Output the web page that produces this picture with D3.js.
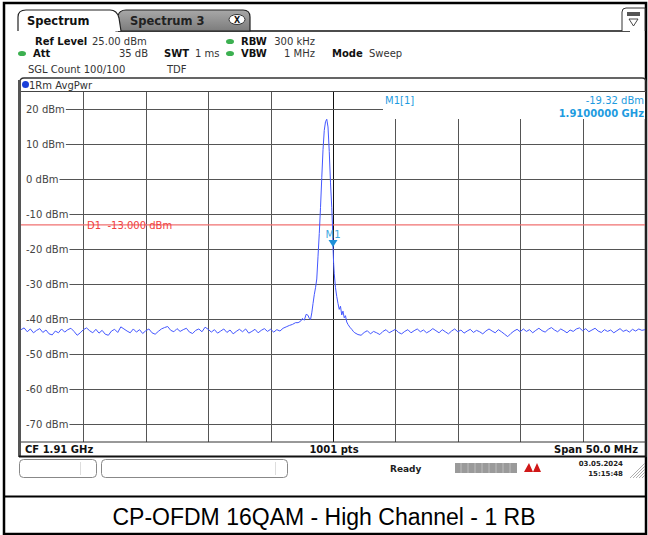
<!DOCTYPE html>
<html><head><meta charset="utf-8">
<script src="https://cdn.jsdelivr.net/npm/d3@7"></script>
<style>html,body{margin:0;padding:0;background:#fff;}svg{display:block;}</style>
</head><body>
<svg id="c" width="648" height="535"></svg>
<script>
// ---------- data ----------
const yTicks = [20, 10, 0, -10, -20, -30, -40, -50, -60, -70];
const xGridMHz = [1890, 1895, 1900, 1905, 1910, 1915, 1920, 1925, 1930];
const startMHz = 1885, stopMHz = 1935, stepMHz = 0.25;
// noise floor left of carrier (offset from start, 0.25 MHz grid)
const leftNoise = [-43.0,-42.5,-43.6,-42.8,-43.9,-43.2,-42.7,-43.8,-43.1,-44.2,-44.5,-43.4,-43.9,-42.8,-43.7,-43.0,-42.6,-43.5,-44.6,-43.9,-43.0,-42.5,-43.3,-43.9,-42.9,-44.0,-43.2,-44.3,-44.6,-43.4,-42.9,-43.8,-42.2,-42.8,-43.4,-43.9,-42.8,-43.7,-43.0,-44.1,-43.3,-42.8,-43.9,-44.3,-43.5,-42.8,-42.4,-42.1,-43.2,-43.6,-42.7,-43.5,-43.0,-42.6,-43.7,-44.1,-43.2,-42.8,-43.6,-42.3,-42.9,-43.7,-43.0,-44.0,-43.4,-42.8,-43.8,-43.1,-44.2,-43.5,-42.9,-43.6,-42.8,-44.0,-43.5,-42.9,-43.9,-43.2,-42.7,-43.5,-42.9,-43.7,-43.0,-43.4,-42.6,-42.2,-41.8,-41.5,-41.0];
// carrier region (offset MHz from start)
const peakOffset = [22.2,22.4,22.55,22.7,22.85,23.0,23.1,23.2,23.3,23.4,23.5,23.6,23.7,23.8,23.9,24.0,24.1,24.2,24.3,24.4,24.5,24.6,24.7,24.8,24.9,24.95,25.0,25.05,25.1,25.2,25.3,25.4,25.5,25.6,25.7,25.8,25.9,26.0,26.1,26.2,26.35,26.5,26.65];
const peakLevel  = [-41.0,-40.6,-39.8,-40.3,-38.6,-38.9,-39.8,-40.1,-38.2,-35.5,-33.0,-31.0,-28.5,-22.0,-15.5,-8.0,0.5,8.5,14.0,16.5,17.2,15.0,8.0,-1.0,-8.0,-12.5,-19.32,-24.0,-27.0,-31.0,-33.5,-35.5,-37.2,-36.3,-38.8,-37.7,-39.6,-39.0,-40.8,-41.5,-42.3,-42.9,-43.6];
// noise floor right of carrier, ending at stop frequency (0.25 MHz grid)
const rightNoise = [-43.9,-44.4,-44.6,-43.8,-43.3,-44.2,-43.5,-43.9,-44.4,-43.5,-43.0,-43.9,-43.4,-42.9,-43.8,-44.2,-43.5,-43.0,-43.9,-43.3,-42.8,-43.6,-43.1,-43.9,-43.4,-42.7,-43.3,-43.9,-43.0,-43.6,-44.2,-43.4,-42.8,-43.6,-43.1,-44.0,-43.4,-42.9,-43.8,-43.2,-43.6,-44.2,-43.4,-42.8,-43.4,-43.9,-43.0,-43.6,-44.3,-45.0,-44.1,-43.4,-42.9,-43.6,-42.8,-43.5,-43.0,-43.9,-43.2,-42.6,-43.3,-43.7,-42.9,-42.4,-43.1,-43.6,-42.8,-43.3,-43.9,-43.1,-43.5,-42.8,-42.5,-43.3,-42.7,-43.6,-43.1,-42.6,-43.4,-43.8,-43.0,-43.5,-43.1,-43.9,-43.3,-42.7,-43.5,-43.1,-43.7,-42.9,-43.4,-42.8,-43.2,-43.0];
const displayLine = -13.0;
const markerMHz = 1910.0, markerLevel = -19.32;

// ---------- build trace ----------
const trace = [];
leftNoise.forEach((v,i)=>{ const o=i*stepMHz; if(o<peakOffset[0]) trace.push([startMHz+o,v]); });
peakOffset.forEach((o,i)=>trace.push([startMHz+o,peakLevel[i]]));
rightNoise.forEach((v,i)=>{ const f=stopMHz-(rightNoise.length-1-i)*stepMHz; if(f>startMHz+peakOffset[peakOffset.length-1]) trace.push([f,v]); });

const svg = d3.select("#c");
const F = "DejaVu Sans";
const x = d3.scaleLinear().domain([startMHz, stopMHz]).range([21, 645]);
const y = d3.scaleLinear().domain([-75, 25]).range([441.5, 92]);

// outer border
svg.append("rect").attr("x",4).attr("y",3).attr("width",642).attr("height",531).attr("fill","none").attr("stroke","#000").attr("stroke-width",2.5);
svg.append("line").attr("x1",4).attr("x2",646).attr("y1",496.5).attr("y2",496.5).attr("stroke","#000").attr("stroke-width",2);
svg.append("text").attr("x",324).attr("y",525).attr("text-anchor","middle").attr("font-family","Liberation Sans, Arial").attr("font-size",23).attr("fill","#000").text("CP-OFDM 16QAM - High Channel - 1 RB");

// tabs
svg.append("line").attr("x1",118).attr("x2",630).attr("y1",31).attr("y2",31).attr("stroke","#111").attr("stroke-width",1.5);
const g3 = svg.append("defs").append("linearGradient").attr("id","tabg").attr("x1",0).attr("x2",0).attr("y1",0).attr("y2",1);
g3.append("stop").attr("offset","0%").attr("stop-color","#a8a8a8");
g3.append("stop").attr("offset","100%").attr("stop-color","#7c7c7c");
svg.append("path").attr("d","M116,31 L118,16 Q119,10 126,10 L243,10 Q250,10 250,17 L250,31 Z").attr("fill","url(#tabg)").attr("stroke","#222").attr("stroke-width",1.2);
svg.append("path").attr("d","M18,31 L18,17 Q18,10 26,10 L110,10 Q117,10 119,18 L121,31").attr("fill","#fff").attr("stroke","#222").attr("stroke-width",1.2);
svg.append("text").attr("x",27).attr("y",25).attr("font-family",F).attr("font-weight","bold").attr("font-size",11.5).attr("fill","#111").text("Spectrum");
svg.append("text").attr("x",130).attr("y",25).attr("font-family",F).attr("font-weight","bold").attr("font-size",11.5).attr("fill","#222").text("Spectrum 3");
svg.append("ellipse").attr("cx",237).attr("cy",19.5).attr("rx",8).attr("ry",5).attr("fill","#fff").attr("stroke","#333");
svg.append("text").attr("x",237).attr("y",22.5).attr("text-anchor","middle").attr("font-family",F).attr("font-weight","bold").attr("font-size",8).attr("fill","#111").text("X");
// top-right icon
svg.append("path").attr("d","M622,31 L622,12 Q622,8 626,8 L645,8 L645,31").attr("fill","#fff").attr("stroke","#333");
svg.append("rect").attr("x",627).attr("y",12).attr("width",13).attr("height",4).attr("fill","#555");
svg.append("path").attr("d","M629,19 L638,19 L633.5,26 Z").attr("fill","none").attr("stroke","#333").attr("stroke-width",0.9);

// info rows
function t(xp,yp,s,opts={}){
  return svg.append("text").attr("x",xp).attr("y",yp).attr("font-family",F).attr("font-size",opts.size||10)
    .attr("font-weight",opts.bold?"bold":"normal").attr("fill",opts.fill||"#333").attr("text-anchor",opts.anchor||"start")
    .style("white-space","pre").text(s);
}
function dot(cx,cy,col){ svg.append("ellipse").attr("cx",cx).attr("cy",cy).attr("rx",4).attr("ry",2.6).attr("fill",col); }
t(35,45,"Ref Level",{bold:true,fill:"#111"}); t(92,45,"25.00 dBm");
dot(230,41.5,"#3cb050"); t(241,45,"RBW",{bold:true,fill:"#111"}); t(315,45,"300 kHz",{anchor:"end"});
dot(22,53.5,"#3cb050"); t(33,57,"Att",{bold:true,fill:"#111"}); t(148,57,"35 dB",{anchor:"end"});
t(164,57,"SWT",{bold:true,fill:"#111"}); t(195,57,"1 ms");
dot(230,53.5,"#3cb050"); t(241,57,"VBW",{bold:true,fill:"#111"}); t(315,57,"1 MHz",{anchor:"end"});
t(332,57,"Mode",{bold:true,fill:"#111"}); t(369,57,"Sweep");
t(28,73,"SGL Count 100/100"); t(167,73,"TDF");

// plot frame
svg.append("path").attr("d","M20,457 L20,82 Q20,78 24,78 L642,78 Q646,78 646,82 L646,457").attr("fill","none").attr("stroke","#333").attr("stroke-width",1.3);
svg.append("line").attr("x1",19.5).attr("x2",19.5).attr("y1",80).attr("y2",457).attr("stroke","#555").attr("stroke-width",3);
svg.append("circle").attr("cx",25.5).attr("cy",84.5).attr("r",3.5).attr("fill","#1a3fd8");
t(29,88.5,"1Rm AvgPwr");
svg.append("line").attr("x1",21).attr("x2",646).attr("y1",91.5).attr("y2",91.5).attr("stroke","#444");

// grid
svg.append("g").selectAll("line").data(xGridMHz).join("line")
  .attr("x1",d=>Math.round(x(d))+0.5).attr("x2",d=>Math.round(x(d))+0.5).attr("y1",92).attr("y2",442)
  .attr("stroke",d=>d===1910?"#111":"#555").attr("stroke-width",1);
const yl = svg.append("g");
yTicks.forEach(v=>{
  const yy = Math.round(y(v))+0.5;
  const tx = yl.append("text").attr("x",26).attr("y",yy+3.5).attr("font-family",F).attr("font-size",10).attr("fill","#444").text(v+" dBm");
  const w = tx.node().getComputedTextLength();
  yl.append("line").attr("x1",26+w+1).attr("x2",645).attr("y1",yy).attr("y2",yy).attr("stroke","#555");
});
// marker info box
svg.append("rect").attr("x",383).attr("y",92).attr("width",262).attr("height",27).attr("fill","#fff");
t(385,104,"M1[1]",{fill:"#1e9be0"});
t(644,104,"-19.32 dBm",{fill:"#1e9be0",anchor:"end"});
t(644,117,"1.9100000 GHz",{fill:"#1e9be0",anchor:"end",bold:true});

// display line
svg.append("line").attr("x1",21).attr("x2",645).attr("y1",y(displayLine)).attr("y2",y(displayLine)).attr("stroke","#f07070").attr("stroke-width",1.2);
t(87,y(displayLine)+4,"D1  -13.000 dBm",{fill:"#f04040"});

// trace
svg.append("path").datum(trace).attr("fill","none").attr("stroke","#4457ff").attr("stroke-width",1)
  .attr("d",d3.line().x(d=>x(d[0])).y(d=>y(d[1])));

// marker
const mx = x(markerMHz), my = y(markerLevel);
svg.append("path").attr("d",`M${mx-4.5},${my-7} L${mx+4.5},${my-7} L${mx},${my} Z`).attr("fill","#1e90d8");
t(mx,my-9,"M1",{fill:"#40a8e0",anchor:"middle"});

// bottom bar
svg.append("line").attr("x1",21).attr("x2",646).attr("y1",442).attr("y2",442).attr("stroke","#333");
svg.append("line").attr("x1",19).attr("x2",646).attr("y1",456.5).attr("y2",456.5).attr("stroke","#111").attr("stroke-width",2);
t(25,453,"CF 1.91 GHz",{bold:true,fill:"#111"});
t(334,453,"1001 pts",{bold:true,fill:"#111",anchor:"middle"});
t(638,453,"Span 50.0 MHz",{bold:true,fill:"#111",anchor:"end"});

// status bar
svg.append("rect").attr("x",19.5).attr("y",459.5).attr("width",77).attr("height",18).attr("rx",4).attr("fill","#fff").attr("stroke","#888");
svg.append("line").attr("x1",80.5).attr("x2",80.5).attr("y1",462).attr("y2",475).attr("stroke","#ddd");
svg.append("rect").attr("x",101.5).attr("y",459.5).attr("width",186).attr("height",18).attr("rx",4).attr("fill","#fff").attr("stroke","#888");
svg.append("line").attr("x1",275.5).attr("x2",275.5).attr("y1",462).attr("y2",475).attr("stroke","#ddd");
t(390,472,"Ready",{bold:true,fill:"#222",size:9});
svg.append("rect").attr("x",455).attr("y",463).attr("width",62).attr("height",10).attr("fill","#9a9a9a");
d3.range(8).forEach(i=>svg.append("line").attr("x1",461+i*7).attr("x2",461+i*7).attr("y1",463).attr("y2",473).attr("stroke","#bdbdbd"));
svg.append("path").attr("d","M524,472 L529,463 L533,472 L537,463 L541,472 Z").attr("fill","#d01818");
t(623,466,"03.05.2024",{bold:true,fill:"#222",size:7,anchor:"end"});
t(623,476,"15:15:48",{bold:true,fill:"#222",size:7,anchor:"end"});
d3.range(5).forEach(i=>svg.append("line").attr("x1",630+i*3).attr("x2",645).attr("y1",478).attr("y2",463+i*3).attr("stroke","#999").attr("stroke-width",0.8));
</script>
</body></html>
